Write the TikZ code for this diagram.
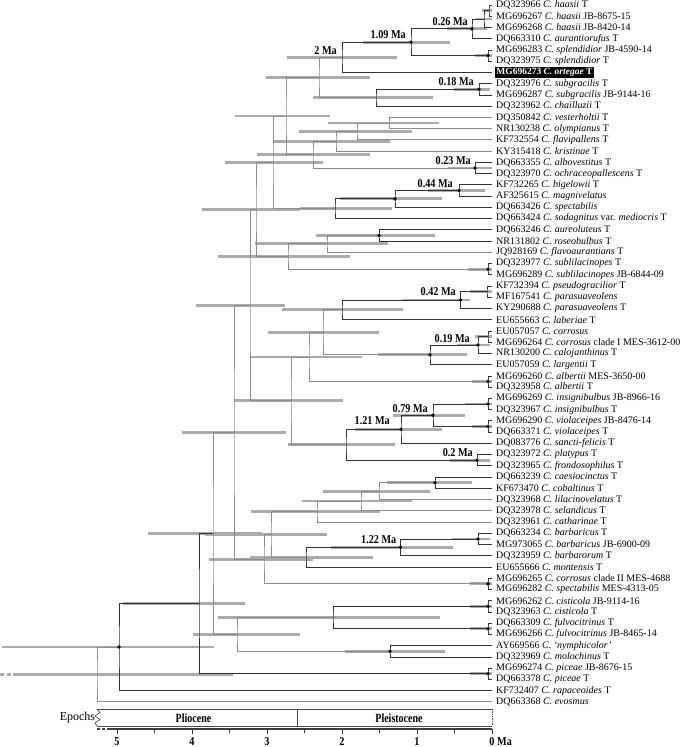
\documentclass[tikz,border=0pt]{standalone}
\usepackage{fontspec}
\usepackage{graphicx}
\setmainfont{Liberation Serif}
\usetikzlibrary{calc}
\newcommand\mknode[4]{\path let \p1=(#3), \p2=(#4) in coordinate (#1) at (#2pt,{0.5*\y1+0.5*\y2});}
\newcommand\tip[2]{\coordinate (t#1) at (492,{-5-(#1-1)*11.24}); \node[lab] (l#1) at (t#1) {#2};}
\newcommand\hpd[3]{\draw[hpdbar] let \p1=(#1) in (#2pt,\y1) -- (#3pt,\y1);}
\newcommand\elbow[4]{\draw[#1] (#3) -| (#2) |- (#4);}
\newcommand\dotat[1]{\fill (#1) circle (1.9pt);}
\newcommand\cnd[1]{\scalebox{0.85}[1]{#1}}
\begin{document}
\begin{tikzpicture}[x=1pt,y=1pt,
  lab/.style={anchor=west,inner xsep=4pt,inner ysep=0pt,font=\fontsize{10}{11}\selectfont},
  hilite/.style={anchor=west,fill=black,text=white,inner xsep=1.2pt,inner ysep=1.6pt,font=\fontsize{9.5}{11}\selectfont\bfseries},
  dk/.style={draw=black!80,line width=0.8pt},
  lt/.style={draw=black!45,line width=0.9pt},
  hpdbar/.style={draw=black!33,line width=2.8pt},
  age/.style={anchor=south east,inner sep=0pt,font=\fontsize{12}{12}\selectfont\bfseries},
  axl/.style={inner sep=0pt,font=\fontsize{12}{12}\selectfont\bfseries},
  epo/.style={inner sep=0pt,font=\fontsize{12.5}{12}\selectfont\bfseries}]
\useasboundingbox (0,0) rectangle (685,-747);
% ---------------- tips ----------------
\tip{1}{DQ323966 \textit{C. haasii} T}
\tip{2}{MG696267 \textit{C. haasii} JB-8675-15}
\tip{3}{MG696268 \textit{C. haasii} JB-8420-14}
\tip{4}{DQ663310 \textit{C. aurantiorufus} T}
\tip{5}{MG696283 \textit{C. splendidior} JB-4590-14}
\tip{6}{DQ323975 \textit{C. splendidior} T}
\coordinate (t7) at (492,{-5-6*11.24});
\node[hilite] (l7) at ($(t7)+(3,0)$) {MG696273 \textit{C. ortegae} T};
\tip{8}{DQ323976 \textit{C. subgracilis} T}
\tip{9}{MG696287 \textit{C. subgracilis} JB-9144-16}
\tip{10}{DQ323962 \textit{C. chailluzii} T}
\tip{11}{DQ350842 \textit{C. vesterholtii} T}
\tip{12}{NR130238 \textit{C. olympianus} T}
\tip{13}{KF732554 \textit{C. flavipallens} T}
\tip{14}{KY315418 \textit{C. kristinae} T}
\tip{15}{DQ663355 \textit{C. albovestitus} T}
\tip{16}{DQ323970 \textit{C. ochraceopallescens} T}
\tip{17}{KF732265 \textit{C. bigelowii} T}
\tip{18}{AF325615 \textit{C. magnivelatus}}
\tip{19}{DQ663426 \textit{C. spectabilis}}
\tip{20}{DQ663424 \textit{C. sodagnitus} var. \textit{mediocris} T}
\tip{21}{DQ663246 \textit{C. aureoluteus} T}
\tip{22}{NR131802 \textit{C. roseobulbus} T}
\tip{23}{JQ928169 \textit{C. flavoaurantians} T}
\tip{24}{DQ323977 \textit{C. sublilacinopes} T}
\tip{25}{MG696289 \textit{C. sublilacinopes} JB-6844-09}
\tip{26}{KF732394 \textit{C. pseudogracilior} T}
\tip{27}{MF167541 \textit{C. parasuaveolens}}
\tip{28}{KY290688 \textit{C. parasuaveolens} T}
\tip{29}{EU655663 \textit{C. laberiae} T}
\tip{30}{EU057057 \textit{C. corrosus}}
\tip{31}{MG696264 \textit{C. corrosus} clade I MES-3612-00}
\tip{32}{NR130200 \textit{C. calojanthinus} T}
\tip{33}{EU057059 \textit{C. largentii} T}
\tip{34}{MG696260 \textit{C. albertii} MES-3650-00}
\tip{35}{DQ323958 \textit{C. albertii} T}
\tip{36}{MG696269 \textit{C. insignibulbus} JB-8966-16}
\tip{37}{DQ323967 \textit{C. insignibulbus} T}
\tip{38}{MG696290 \textit{C. violaceipes} JB-8476-14}
\tip{39}{DQ663371 \textit{C. violaceipes} T}
\tip{40}{DQ083776 \textit{C. sancti-felicis} T}
\tip{41}{DQ323972 \textit{C. platypus} T}
\tip{42}{DQ323965 \textit{C. frondosophilus} T}
\tip{43}{DQ663239 \textit{C. caesiocinctus} T}
\tip{44}{KF673470 \textit{C. cobaltinus} T}
\tip{45}{DQ323968 \textit{C. lilacinovelatus} T}
\tip{46}{DQ323978 \textit{C. selandicus} T}
\tip{47}{DQ323961 \textit{C. catharinae} T}
\tip{48}{DQ663234 \textit{C. barbaricus} T}
\tip{49}{MG973065 \textit{C. barbaricus} JB-6900-09}
\tip{50}{DQ323959 \textit{C. barbarorum} T}
\tip{51}{EU655666 \textit{C. montensis} T}
\tip{52}{MG696265 \textit{C. corrosus} clade II MES-4688}
\tip{53}{MG696282 \textit{C. spectabilis} MES-4313-05}
\tip{54}{MG696262 \textit{C. cisticola} JB-9114-16}
\tip{55}{DQ323963 \textit{C. cisticola} T}
\tip{56}{DQ663309 \textit{C. fulvocitrinus} T}
\tip{57}{MG696266 \textit{C. fulvocitrinus} JB-8465-14}
\tip{58}{AY669566 \textit{C. ‘nymphicolor’}}
\tip{59}{DQ323969 \textit{C. molochinus} T}
\tip{60}{MG696274 \textit{C. piceae} JB-8676-15}
\tip{61}{DQ663378 \textit{C. piceae} T}
\tip{62}{KF732407 \textit{C. rapaceoides} T}
\tip{63}{DQ663368 \textit{C. evosmus}}
% ---------------- internal nodes ----------------
\mknode{na}{489}{t1}{t2}
\mknode{nb}{484}{na}{t3}
\mknode{n026}{472}{nb}{t4}
\mknode{nsp}{488}{t5}{t6}
\mknode{n109}{411}{n026}{nsp}
\mknode{n2}{342}{n109}{t7}
\mknode{n018}{479}{t8}{t9}
\mknode{nsg}{376}{n018}{t10}
\mknode{na1}{319}{n2}{nsg}
\mknode{nves}{389}{t11}{t12}
\mknode{nfl}{357}{nves}{t13}
\mknode{nkr}{336}{nfl}{t14}
\mknode{n023}{475}{t15}{t16}
\mknode{nb1}{313}{nkr}{n023}
\mknode{na2}{286}{na1}{nb1}
\mknode{n044}{459}{t17}{t18}
\mknode{nspc}{395}{n044}{t19}
\mknode{nsod}{335}{nspc}{t20}
\mknode{na3}{273}{na2}{nsod}
\mknode{naur}{379}{t21}{t22}
\mknode{nfla}{327}{naur}{t23}
\mknode{nsub}{488}{t24}{t25}
\mknode{nb2}{288}{nfla}{nsub}
\mknode{na4}{256}{na3}{nb2}
\mknode{npp}{487}{t26}{t27}
\mknode{n042}{460.5}{npp}{t28}
\mknode{nlab}{342}{n042}{t29}
\mknode{ncor}{488}{t30}{t31}
\mknode{n019}{478}{ncor}{t32}
\mknode{nlar}{430}{n019}{t33}
\mknode{nc1}{323}{nlab}{nlar}
\mknode{nalb}{488}{t34}{t35}
\mknode{nc2}{309}{nc1}{nalb}
\mknode{nins}{488}{t36}{t37}
\mknode{nvio}{488}{t38}{t39}
\mknode{n079}{433}{nins}{nvio}
\mknode{n121}{401}{n079}{t40}
\mknode{n020}{477}{t41}{t42}
\mknode{nc3}{346}{n121}{n020}
\mknode{nc4}{291}{nc2}{nc3}
\mknode{na5}{250}{na4}{nc4}
\mknode{ncae}{435}{t43}{t44}
\mknode{nlil}{379}{ncae}{t45}
\mknode{nsel}{361}{nlil}{t46}
\mknode{ncat}{317}{nsel}{t47}
\mknode{nbb}{478}{t48}{t49}
\mknode{n122}{400.5}{nbb}{t50}
\mknode{nmon}{306}{n122}{t51}
\mknode{nd1}{271}{ncat}{nmon}
\mknode{ncII}{488}{t52}{t53}
\mknode{nd2}{264}{nd1}{ncII}
\mknode{na6}{234}{na5}{nd2}
\mknode{ncis}{488}{t54}{t55}
\mknode{nful}{488}{t56}{t57}
\mknode{ne1}{333}{ncis}{nful}
\mknode{nnm}{390}{t58}{t59}
\mknode{ne2}{237}{ne1}{nnm}
\mknode{na7}{213}{na6}{ne2}
\mknode{npic}{488}{t60}{t61}
\mknode{na8}{199}{na7}{npic}
\mknode{n119}{119}{na8}{t62}
\mknode{root}{97}{n119}{t63}
% ---------------- HPD bars ----------------
\hpd{na}{482}{492}\hpd{nb}{476}{492}\hpd{n026}{447}{487}\hpd{nsp}{475}{492}
\hpd{n109}{363}{450}\hpd{n2}{287}{397}\hpd{n018}{454}{490}\hpd{nsg}{313}{433}
\hpd{na1}{266}{370}\hpd{nves}{328}{439}\hpd{nfl}{299}{412}\hpd{nkr}{273}{390}
\hpd{n023}{448}{492}\hpd{nb1}{257}{370}\hpd{na2}{235}{330}\hpd{n044}{428}{485}
\hpd{nspc}{340}{442}\hpd{nsod}{300}{392}\hpd{na3}{225}{323}\hpd{naur}{316}{435}
\hpd{nfla}{255}{388}\hpd{nsub}{468}{492}\hpd{nb2}{218}{350}\hpd{na4}{202}{300}
\hpd{npp}{470}{492}\hpd{n042}{402}{470}\hpd{nlab}{282}{403}\hpd{ncor}{475}{492}
\hpd{n019}{457}{490}\hpd{nlar}{378}{467}\hpd{nc1}{268}{379}\hpd{nalb}{472}{492}
\hpd{nc2}{250}{362}\hpd{nins}{465}{492}\hpd{nvio}{472}{492}\hpd{n079}{393}{465}
\hpd{n121}{355}{442}\hpd{n020}{450}{490}\hpd{nc3}{288}{395}\hpd{nc4}{234}{343}
\hpd{na5}{196}{285}\hpd{ncae}{387}{472}\hpd{nlil}{323}{430}\hpd{nsel}{302}{412}
\hpd{ncat}{251}{380}\hpd{nbb}{452}{490}\hpd{n122}{331}{453}\hpd{nmon}{250}{373}
\hpd{nd1}{205}{327}\hpd{ncII}{470}{492}\hpd{nd2}{209}{313}\hpd{na6}{182}{286}
\hpd{ncis}{470}{492}\hpd{nful}{470}{492}\hpd{ne1}{218}{440}\hpd{nnm}{345}{445}
\hpd{ne2}{193}{300}\hpd{na7}{148}{262}\hpd{npic}{470}{492}\hpd{na8}{123}{245}
\hpd{n119}{2}{214}\hpd{root}{17}{233}
\draw[hpdbar,dash pattern=on 4pt off 2.5pt] let \p1=(root) in (0pt,\y1) -- (17pt,\y1);
% ---------------- branches ----------------
\elbow{dk}{na}{t1}{t2}\elbow{dk}{nb}{na}{t3}\elbow{dk}{n026}{nb}{t4}
\elbow{dk}{nsp}{t5}{t6}\elbow{dk}{n109}{n026}{nsp}\elbow{dk}{n2}{n109}{t7}
\elbow{dk}{n018}{t8}{t9}\elbow{dk}{nsg}{n018}{t10}\elbow{lt}{na1}{n2}{nsg}
\elbow{lt}{nves}{t11}{t12}\elbow{lt}{nfl}{nves}{t13}\elbow{lt}{nkr}{nfl}{t14}
\elbow{dk}{n023}{t15}{t16}\elbow{lt}{nb1}{nkr}{n023}\elbow{lt}{na2}{na1}{nb1}
\elbow{dk}{n044}{t17}{t18}\elbow{dk}{nspc}{n044}{t19}\elbow{dk}{nsod}{nspc}{t20}
\elbow{lt}{na3}{na2}{nsod}\elbow{dk}{naur}{t21}{t22}\elbow{lt}{nfla}{naur}{t23}
\elbow{dk}{nsub}{t24}{t25}\elbow{lt}{nb2}{nfla}{nsub}\elbow{lt}{na4}{na3}{nb2}
\elbow{dk}{npp}{t26}{t27}\elbow{dk}{n042}{npp}{t28}\elbow{dk}{nlab}{n042}{t29}
\elbow{dk}{ncor}{t30}{t31}\elbow{dk}{n019}{ncor}{t32}\elbow{dk}{nlar}{n019}{t33}
\elbow{lt}{nc1}{nlab}{nlar}\elbow{dk}{nalb}{t34}{t35}\elbow{lt}{nc2}{nc1}{nalb}
\elbow{dk}{nins}{t36}{t37}\elbow{dk}{nvio}{t38}{t39}\elbow{dk}{n079}{nins}{nvio}
\elbow{dk}{n121}{n079}{t40}\elbow{dk}{n020}{t41}{t42}\elbow{dk}{nc3}{n121}{n020}
\elbow{lt}{nc4}{nc2}{nc3}\elbow{lt}{na5}{na4}{nc4}
\elbow{dk}{ncae}{t43}{t44}\elbow{lt}{nlil}{ncae}{t45}\elbow{lt}{nsel}{nlil}{t46}
\elbow{lt}{ncat}{nsel}{t47}\elbow{dk}{nbb}{t48}{t49}\elbow{dk}{n122}{nbb}{t50}
\elbow{dk}{nmon}{n122}{t51}\elbow{lt}{nd1}{ncat}{nmon}\elbow{dk}{ncII}{t52}{t53}
\elbow{lt}{nd2}{nd1}{ncII}\elbow{lt}{na6}{na5}{nd2}
\elbow{dk}{ncis}{t54}{t55}\elbow{dk}{nful}{t56}{t57}\elbow{dk}{ne1}{ncis}{nful}
\elbow{dk}{nnm}{t58}{t59}\elbow{lt}{ne2}{ne1}{nnm}\elbow{lt}{na7}{na6}{ne2}
\elbow{dk}{npic}{t60}{t61}\elbow{dk}{na8}{na7}{npic}\elbow{dk}{n119}{na8}{t62}
\elbow{lt}{root}{n119}{t63}
% ---------------- node dots ----------------
\foreach \n in {n026,nsp,n109,n018,n023,n044,nspc,naur,nsub,n042,n019,nlar,nalb,nins,nvio,n079,n121,n020,ncae,nbb,n122,ncII,ncis,nful,nnm,npic,n119}
  {\dotat{\n}}
% ---------------- age labels ----------------
\node[age] (g026) at ($(n026)+(-4,3)$) {\cnd{0.26 Ma}};
\node[age] (g109) at ($(n109)+(-5,3)$) {\cnd{1.09 Ma}};
\node[age] (g2) at ($(n2)+(-5,3)$) {\cnd{2 Ma}};
\node[age] (g018) at ($(n018)+(-5,3)$) {\cnd{0.18 Ma}};
\node[age] (g023) at ($(n023)+(-4,3)$) {\cnd{0.23 Ma}};
\node[age] (g044) at ($(n044)+(-6,3)$) {\cnd{0.44 Ma}};
\node[age] (g042) at ($(n042)+(-4.5,4)$) {\cnd{0.42 Ma}};
\node[age] (g019) at ($(n019)+(-8,2)$) {\cnd{0.19 Ma}};
\node[age] (g079) at ($(n079)+(-5,2)$) {\cnd{0.79 Ma}};
\node[age] (g121) at ($(n121)+(-11,4)$) {\cnd{1.21 Ma}};
\node[age] (g020) at ($(n020)+(-4,3)$) {\cnd{0.2 Ma}};
\node[age] (g122) at ($(n122)+(-4,3)$) {\cnd{1.22 Ma}};
% ---------------- epochs and axis ----------------
\draw[black!70,line width=0.7pt] (97,-709) -- (492,-709) (97,-726) -- (492,-726) (297,-709) -- (297,-726);
\draw[black!70,line width=0.7pt] (97,-709) -- (100,-712.5) -- (95,-716) -- (100,-719.5) -- (95,-723) -- (97,-726);
\draw[black!70,line width=0.7pt,densely dotted] (492,-709) -- (492,-726);
\node[inner sep=0pt,font=\fontsize{12}{12}\selectfont] (epochs) at (77.5,-717.5) {Epochs};
\node[epo] (plio) at (193.5,-718) {\scalebox{0.8}[1]{Pliocene}};
\node[epo] (pleis) at (399,-718) {\scalebox{0.8}[1]{Pleistocene}};
\draw[line width=1.6pt,black!75] (107,-729) -- (492,-729);
\draw[line width=1.6pt,black!75,dash pattern=on 3pt off 2pt] (97,-729) -- (107,-729);
\foreach \k in {0,...,5} \draw[line width=0.9pt,black!80] ({492-75*\k},-729) -- ++(0,-5);
\foreach \k in {0,...,4} \draw[line width=0.8pt,black!80] ({454.5-75*\k},-729) -- ++(0,-3.5);
\node[axl,anchor=base] (ax5) at (117,-745.5) {\cnd{5}};
\node[axl,anchor=base] (ax4) at (192,-745.5) {\cnd{4}};
\node[axl,anchor=base] (ax3) at (267,-745.5) {\cnd{3}};
\node[axl,anchor=base] (ax2) at (342,-745.5) {\cnd{2}};
\node[axl,anchor=base] (ax1) at (417,-745.5) {\cnd{1}};
\node[axl,anchor=base] (ax0) at (492,-745.5) {\cnd{0}};
\node[axl,anchor=base west] (axma) at (497,-745.5) {\cnd{Ma}};
\end{tikzpicture}
\end{document}
